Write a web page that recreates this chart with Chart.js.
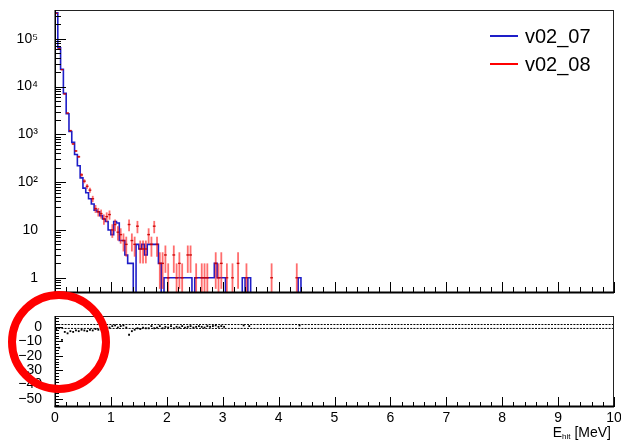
<!DOCTYPE html>
<html>
<head>
<meta charset="utf-8">
<script src="https://cdn.jsdelivr.net/npm/chart.js@4/dist/chart.umd.min.js"></script>
<style>
  html, body { margin: 0; padding: 0; background: #fff; }
  #wrap { position: relative; width: 621px; height: 440px; overflow: hidden; font-family: 'Liberation Sans', Arial, Helvetica, sans-serif; }
  #topc { position: absolute; left: 0; top: 0; }
  #botc { position: absolute; left: 0; top: 300px; }
  .leg { position: absolute; font-size: 20px; line-height: 20px; color: #000; }
  .legline { position: absolute; height: 1.6px; width: 28px; }
  #xtitle { position: absolute; right: 10px; top: 425px; font-size: 14px; line-height: 14px; color: #000; white-space: nowrap; }
  #xtitle sub { font-size: 8px; vertical-align: -2px; }
  #mark { position: absolute; left: 8px; top: 291px; width: 102px; height: 102px; box-sizing: border-box; border: 8px solid #f00; border-radius: 50%; }
</style>
</head>
<body>
<div id="wrap">
  <canvas id="topc" width="621" height="300"></canvas>
  <canvas id="botc" width="621" height="140"></canvas>
  <div class="legline" style="left:490px;top:35px;background:#1e1ec8;"></div>
  <div class="leg" id="leg0" style="left:525px;top:26px;"></div>
  <div class="legline" style="left:490px;top:63px;background:#ff0000;"></div>
  <div class="leg" id="leg1" style="left:525px;top:54px;"></div>
  <div id="xtitle">E<sub>hit</sub> [MeV]</div>
  <div id="mark"></div>
</div>
<script>
// ---------------- data ----------------
const binLow = 0, binHigh = 10, nBins = 200;           // histogram binning (MeV)
const seriesNames = ['v02_07', 'v02_08'];

// counts per bin (bins not listed are empty)
const v07Counts = [
  350000, 65000, 23000, 7200, 2700, 1150, 680, 380, 220, 123,
  75, 60, 45, 35, 26, 24, 20, 17, 15, 10,
  8, 15, 14, 6, 6, 3, 2, 2, 0, 5,
  4, 5, 3, 5, 5, 5, 5, 2, 0, 1,
  1, 1, 1, 1, 1, 1, 1, 1, 1, 0,
  1, 1, 1, 1, 1, 1, 1, 2, 1, 1,
  1, 0, 0, 0, 0, 0, 0, 1, 0, 1,
  0, 0, 0, 0, 0, 0, 0, 0, 0, 0,
  0, 0, 0, 0, 0, 0, 0, 1
];
const v08Counts = [
  340000, 62000, 22500, 7000, 2800, 1200, 630, 450, 340, 142,
  105, 82, 68, 45, 28, 24, 22, 17, 19, 21,
  10, 13, 9, 8, 6, 5, 13, 6, 5, 12,
  4, 4, 4, 8, 5, 12, 5, 2, 2, 3,
  1, 0, 3, 1, 2, 1, 0, 3, 3, 0,
  1, 0, 1, 1, 1, 0, 0, 2, 1, 2,
  0, 1, 0, 1, 0, 2, 0, 0, 1, 0,
  0, 0, 0, 0, 0, 0, 0, 1, 0, 0,
  0, 0, 0, 0, 0, 0, 1, 0
];
// lower panel: per-bin difference values (null = no point)
const ratioValues = [
  -1.5, -14.5, -9, -3.5, -4.5, -3, -3.5, -2.5, -3, -2,
  -2.5, -3, -2, -2.5, -1.5, -2, -1, -2, -1.5, -0.5,
  0.5, 1, -0.5, 0.5, 1, -0.5, -5.5, -3, -2, -1,
  -1.5, -0.5, -1, -1, 0.5, -1, -0.5, 0.5, -1, 0,
  -0.5, 0.5, -1, 0, -0.5, 0.5, -0.5, 0, 0.5, -0.5,
  0, 0.5, 0, -0.5, 0.5, 0, 0.5, 1, 0, 0.5,
  0, null, null, null, null, null, null, 1, null, 0.5,
  null, null, null, null, null, null, null, null, null, null,
  null, null, null, null, null, null, null, 1
];
const ratioBands = [1.6, -1.1];

// axes
const topYRange = [0.48, 400000];
const logTickValues = [1, 10, 100, 1000, 10000, 100000];
const logTickLabels = ['1', '10', '10²', '10³', '10⁴', '10⁵'];
const ratioYRange = [-55.5, 7.5];
const ratioTickValues = [0, -10, -20, -30, -40, -50];
const ratioTickLabels = ['0', '−10', '−20', '−30', '−40', '−50'];
const xTickValues = [0, 1, 2, 3, 4, 5, 6, 7, 8, 9, 10];
const xTickLabels = ['0', '1', '2', '3', '4', '5', '6', '7', '8', '9', '10'];

// ---------------- helpers ----------------
document.getElementById('leg0').textContent = seriesNames[0];
document.getElementById('leg1').textContent = seriesNames[1];
const FONT = "'Liberation Sans', Arial, Helvetica, sans-serif";
const bw = (binHigh - binLow) / nBins;
const edge = i => binLow + i * bw;
const countAt = (arr, i) => (i < arr.length ? arr[i] : 0);
const yFloor = topYRange[0] / 10;

const blueData = [];
for (let i = 0; i < nBins; i++) {
  const c = countAt(v07Counts, i);
  blueData.push({ x: edge(i), y: c > 0 ? c : yFloor });
}
blueData.push({ x: binHigh, y: yFloor });

const redData = [];
for (let i = 0; i < nBins; i++) {
  const c = countAt(v08Counts, i);
  if (c > 0) redData.push({ x: edge(i) + bw / 2, y: c });
}

const ratioData = [];
ratioValues.forEach((v, i) => { if (v !== null) ratioData.push({ x: edge(i) + bw / 2, y: v }); });

function zeroPad(s) { s.paddingTop = 0; s.paddingBottom = 0; s.paddingLeft = 0; s.paddingRight = 0; }

function framePlugin(cfg) {
  return {
    id: 'rootFrame',
    afterDatasetDraw(chart, args) {
      if (!cfg.errorBars || args.index !== cfg.errorBars.afterIndex) return;
      const { ctx, chartArea: a } = chart;
      const xs = chart.scales.x, ys = chart.scales.y;
      ctx.save();
      ctx.beginPath(); ctx.rect(a.left, a.top, a.right - a.left, a.bottom - a.top); ctx.clip();
      ctx.strokeStyle = 'rgba(255,20,20,0.62)';
      ctx.lineWidth = 1.8;
      cfg.errorBars.data.forEach(p => {
        const e = Math.sqrt(p.y);
        const px = xs.getPixelForValue(p.x);
        const hi = ys.getPixelForValue(p.y + e);
        const lo = p.y - e > 0 ? ys.getPixelForValue(p.y - e) : a.bottom + 2;
        ctx.beginPath(); ctx.moveTo(px, hi); ctx.lineTo(px, lo); ctx.stroke();
      });
      ctx.restore();
    },
    afterDraw(chart) {
      const { ctx, chartArea: a } = chart;
      const xs = chart.scales.x, ys = chart.scales.y;
      ctx.save();
      ctx.strokeStyle = '#000';
      ctx.lineWidth = 1;
      const seg = (x1, y1, x2, y2) => { ctx.beginPath(); ctx.moveTo(x1, y1); ctx.lineTo(x2, y2); ctx.stroke(); };
      // x ticks (inside, from bottom)
      for (let k = 0; k <= 50; k++) {
        const v = k / 5;
        const px = Math.round(xs.getPixelForValue(v)) + 0.5;
        const len = k % 5 === 0 ? cfg.xMajor : cfg.xMinor;
        seg(px, a.bottom, px, a.bottom - len);
      }
      // y ticks (inside, from left)
      cfg.yTicks.forEach(([v, major]) => {
        const py = Math.round(ys.getPixelForValue(v)) + 0.5;
        if (py < a.top || py > a.bottom) return;
        seg(a.left, py, a.left + (major ? cfg.yMajor : cfg.yMinor), py);
      });
      // frame
      ctx.strokeStyle = '#222';
      ctx.strokeRect(a.left + 0.5, a.top + 0.5, a.right - a.left - 1, a.bottom - a.top - 1);
      ctx.strokeStyle = '#000';
      ctx.lineWidth = 2;
      seg(a.left - 0.5, a.bottom - 0.5, a.right, a.bottom - 0.5);
      ctx.lineWidth = 1.5;
      seg(a.left + 0.25, a.top, a.left + 0.25, a.bottom);
      ctx.restore();
    }
  };
}

// tick mark positions
const topYTicks = [];
for (let n = -1; n <= 5; n++) for (let k = 1; k <= 9; k++) {
  const v = k * Math.pow(10, n);
  if (v >= topYRange[0] && v <= topYRange[1]) topYTicks.push([v, k === 1]);
}
const botYTicks = [];
for (let v = -54; v <= 6; v += 2) botYTicks.push([v, v % 10 === 0]);

Chart.defaults.font.family = FONT;
Chart.defaults.color = '#000';

// ---------------- top panel ----------------
new Chart(document.getElementById('topc'), {
  type: 'line',
  data: {
    datasets: [
      {
        label: seriesNames[0], data: blueData, order: 2,
        stepped: 'before', borderColor: 'rgb(30,30,200)', borderWidth: 1.6,
        pointRadius: 0, fill: false, tension: 0
      },
      {
        label: seriesNames[1], data: redData, order: 1, showLine: false,
        pointStyle: 'line', pointBorderColor: 'rgba(200,0,0,0.9)', pointBackgroundColor: 'rgba(200,0,0,0.9)',
        pointBorderWidth: 1.4,
        pointRadius: ctx => Math.abs(ctx.chart.scales.x.getPixelForValue(bw) - ctx.chart.scales.x.getPixelForValue(0)) / 2,
        pointHoverRadius: 0
      }
    ]
  },
  options: {
    responsive: false, animation: false, events: [],
    layout: { padding: { left: 0, right: 7, top: 10, bottom: 7 } },
    plugins: { legend: { display: false }, tooltip: { enabled: false } },
    scales: {
      x: { type: 'linear', min: binLow, max: binHigh, display: false },
      y: {
        type: 'logarithmic', min: topYRange[0], max: topYRange[1],
        grid: { display: false }, border: { display: false },
        afterBuildTicks: s => { s.ticks = logTickValues.map(v => ({ value: v })); },
        afterFit: s => { s.width = 55; zeroPad(s); },
        ticks: {
          padding: 9, autoSkip: false, font: { size: 14, family: FONT }, color: '#000',
          callback: (v, i) => logTickLabels[i]
        }
      }
    }
  },
  plugins: [framePlugin({ xMajor: 11, xMinor: 6, yMajor: 11, yMinor: 6, yTicks: topYTicks, errorBars: { afterIndex: 0, data: redData } })]
});

// ---------------- bottom panel ----------------
const bandSets = ratioBands.map(b => ({
  data: [{ x: binLow, y: b }, { x: binHigh, y: b }], order: 2,
  borderColor: '#000', borderWidth: 1, borderDash: [2, 1.2], pointRadius: 0, fill: false
}));
new Chart(document.getElementById('botc'), {
  type: 'line',
  data: {
    datasets: [
      {
        data: ratioData, order: 1, showLine: false,
        pointStyle: 'rect', pointRadius: 1.3, pointBorderWidth: 0,
        pointBackgroundColor: '#000', pointBorderColor: '#000'
      },
      ...bandSets
    ]
  },
  options: {
    responsive: false, animation: false, events: [],
    layout: { padding: { left: 0, right: 7, top: 16, bottom: 0 } },
    plugins: { legend: { display: false }, tooltip: { enabled: false } },
    scales: {
      x: {
        type: 'linear', min: binLow, max: binHigh,
        grid: { display: false }, border: { display: false },
        afterBuildTicks: s => { s.ticks = xTickValues.map(v => ({ value: v })); },
        afterFit: s => { s.height = 33; zeroPad(s); },
        ticks: { padding: -5, autoSkip: false, maxRotation: 0, font: { size: 14, family: FONT }, color: '#000',
          callback: (v, i) => xTickLabels[i] }
      },
      y: {
        type: 'linear', min: ratioYRange[0], max: ratioYRange[1],
        grid: { display: false }, border: { display: false },
        afterBuildTicks: s => { s.ticks = ratioTickValues.map(v => ({ value: v })); },
        afterFit: s => { s.width = 55; zeroPad(s); },
        ticks: { padding: 5, autoSkip: false, font: { size: 14, family: FONT }, color: '#000',
          callback: (v, i) => ratioTickLabels[i] }
      }
    }
  },
  plugins: [framePlugin({ xMajor: 10, xMinor: 5, yMajor: 8, yMinor: 4, yTicks: botYTicks })]
});
</script>
</body>
</html>
